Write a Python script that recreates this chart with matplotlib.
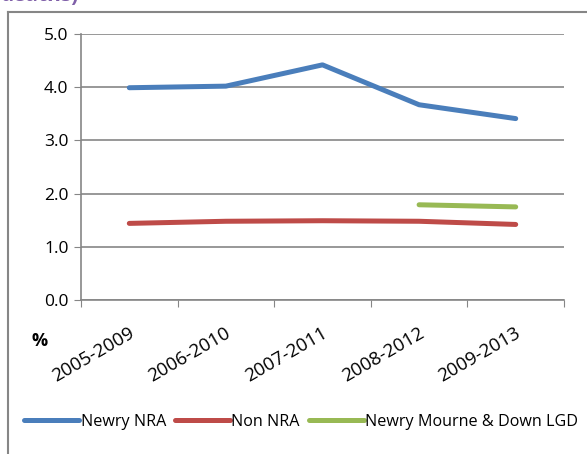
import matplotlib.pyplot as plt
from matplotlib.lines import Line2D
from matplotlib.transforms import ScaledTranslation

periods = ['2005-2009', '2006-2010', '2007-2011', '2008-2012', '2009-2013']
newry_nra = [3.99, 4.02, 4.42, 3.67, 3.41]
non_nra = [1.44, 1.48, 1.49, 1.48, 1.42]
lgd_periods = ['2008-2012', '2009-2013']
lgd = [1.79, 1.75]
yticks = [0.0, 1.0, 2.0, 3.0, 4.0, 5.0]

plt.rcParams['font.family'] = ['Open Sans', 'DejaVu Sans']
W, H = 587, 454
fig = plt.figure(figsize=(W / 100, H / 100), dpi=100)
ax = fig.add_axes([81 / W, 1 - 300 / H, (564 - 81) / W, (300 - 34) / H])

x = list(range(len(periods)))
xl = [periods.index(p) for p in lgd_periods]
ax.plot(x, newry_nra, color='#4a7ebb', lw=3.6, solid_capstyle='round', label='Newry NRA')
ax.plot(x, non_nra, color='#be4b48', lw=3.6, solid_capstyle='round', label='Non NRA')
ax.plot(xl, lgd, color='#98b954', lw=3.6, solid_capstyle='round', label='Newry Mourne & Down LGD')

ax.set_xlim(-0.5, len(periods) - 0.5)
ax.set_ylim(0, 5)
ax.set_yticks(yticks)
ax.set_yticklabels(['%.1f' % v for v in yticks], fontsize=12.5)
ax.set_xticks([i - 0.5 for i in range(len(periods) + 1)], minor=False)
ax.set_xticklabels([])
ax.set_xticks(x, minor=True)
ax.set_xticklabels(periods, minor=True, rotation=30, ha='right', rotation_mode='anchor', fontsize=13.5)
ax.tick_params(axis='x', which='minor', length=0, pad=17)
ax.tick_params(axis='x', which='major', length=5, color='#868686', direction='out')
ax.tick_params(axis='y', length=5, color='#868686', direction='out', pad=4)
shift = ScaledTranslation(-1 / 100, 0, fig.dpi_scale_trans)
for lab in ax.get_xticklabels(minor=True):
    lab.set_transform(lab.get_transform() + shift)
ax.yaxis.grid(True, color='#868686', lw=1.2)
ax.set_axisbelow(True)
for s in ['top', 'right']:
    ax.spines[s].set_visible(False)
for s in ['left', 'bottom']:
    ax.spines[s].set_color('#868686')
    ax.spines[s].set_linewidth(1.2)

fig.text(32 / W, 1 - 346 / H, '%', fontsize=13, fontweight='bold')

leg = fig.legend(loc='center left', bbox_to_anchor=(18 / W, 1 - 422 / H), ncol=3, frameon=False,
                 fontsize=11.6, handlelength=3.4, handletextpad=0.1, columnspacing=0.55, borderaxespad=0)

# outer chart frame (left and top edges visible)
fig.add_artist(Line2D([8 / W, 8 / W], [0, 1 - 12 / H], transform=fig.transFigure, color='#868686', lw=1.5))
fig.add_artist(Line2D([8 / W, 1], [1 - 12 / H, 1 - 12 / H], transform=fig.transFigure, color='#868686', lw=1.5))
fig.text(0, 1 + 4 / H, 'deaths)', color='#7f5fa8', fontsize=15, fontweight='bold', va='center')

fig.savefig('out.png', dpi=100)
